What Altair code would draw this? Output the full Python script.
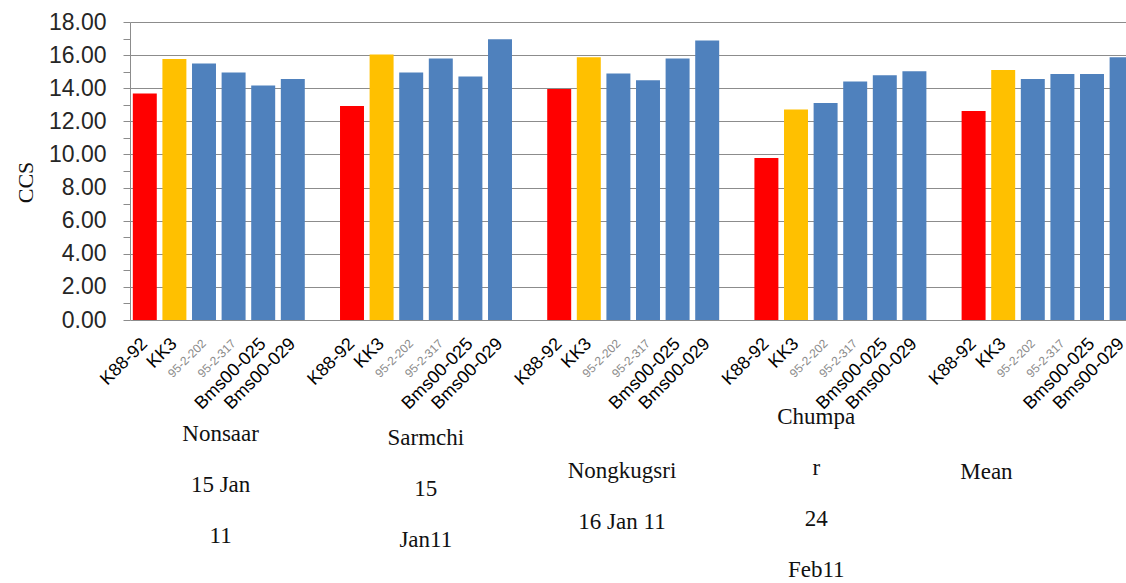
import altair as alt
import pandas as pd

# Sugarcane CCS by variety at four sites plus the overall mean
varieties = ["K88-92", "KK3", "95-2-202", "95-2-317", "Bms00-025", "Bms00-029"]
group_labels = [
    "Nonsaar\n15 Jan\n11",
    "Sarmchi\n15\nJan11",
    "Nongkugsri\n16 Jan 11",
    "Chumpa\nr\n24\nFeb11",
    "Mean",
]
ccs_nonsaar = [13.68, 15.77, 15.49, 14.95, 14.16, 14.56]
ccs_sarmchi = [12.93, 16.03, 14.95, 15.79, 14.71, 16.96]
ccs_nongkugsri = [13.96, 15.87, 14.89, 14.48, 15.79, 16.88]
ccs_chumpar = [9.78, 12.72, 13.10, 14.40, 14.79, 15.03]
ccs_mean = [12.63, 15.10, 14.56, 14.86, 14.86, 15.87]
y_ticks = list(range(0, 19))

series = [ccs_nonsaar, ccs_sarmchi, ccs_nongkugsri, ccs_chumpar, ccs_mean]

# each site occupies 7 category slots: 6 varieties and one empty spacer
n_per = len(varieties) + 1
slots = [f"s{i:02d}" for i in range(len(series) * n_per)]

rows = []
for g, vals in enumerate(series):
    for v, val in enumerate(vals):
        rows.append({"slot": slots[g * n_per + v], "variety": varieties[v], "ccs": val})
bars_df = pd.DataFrame(rows)

RED, ORANGE, BLUE = "#FF0000", "#FFC000", "#4F81BD"
step = 29.6
plot_w = 996
plot_h = 298
pad_left, pad_top = 130, 22

label_list = "[" + ",".join(f"'{v}'" for v in varieties) + ",'']"
slot_idx = "(toNumber(substring(datum.value, 1)) % 7)"

x_scale = alt.Scale(domain=slots, range=[0, step * len(slots)],
                    paddingInner=0.19, paddingOuter=0.095)
x_axis = alt.Axis(
    title=None, domain=False, ticks=False, grid=False,
    labelAngle=-45, labelAlign="right", labelBaseline="middle",
    labelPadding=21, labelOverlap=False, labelBound=False,
    labelFont="Liberation Sans",
    labelExpr=f"{label_list}[{slot_idx}]",
    labelFontSize={"condition": {"test": f"{slot_idx} == 2 || {slot_idx} == 3", "value": 12}, "value": 18},
    labelColor={"condition": {"test": f"{slot_idx} == 2 || {slot_idx} == 3", "value": "#8a8a8a"}, "value": "#000000"},
)
y_scale = alt.Scale(domain=[0, 18], nice=False)
y_axis = alt.Axis(
    values=y_ticks,
    labelExpr="datum.value % 2 == 0 ? format(datum.value, '.2f') : ''",
    gridOpacity={"condition": {"test": "datum.value % 2 == 1", "value": 0}, "value": 1},
    gridColor="#8c8c8c", gridWidth=1.2,
    domainColor="#8c8c8c", tickColor="#8c8c8c", tickSize=7,
    labelFont="Liberation Sans", labelFontSize=23, labelColor="#262626",
    labelPadding=17,
    title="CCS", titleFont="Liberation Serif", titleFontSize=22,
    titleFontWeight="normal", titleColor="#111111",
    titleAngle=270, titleX=-105, titleY=160, titleAlign="center",
    titleBaseline="middle",
)

bars = alt.Chart(bars_df).mark_bar(clip=True).encode(
    x=alt.X("slot:N", scale=x_scale, axis=x_axis),
    y=alt.Y("ccs:Q", scale=y_scale, axis=y_axis),
    color=alt.Color("variety:N", scale=alt.Scale(domain=varieties,
                    range=[RED, ORANGE, BLUE, BLUE, BLUE, BLUE]), legend=None),
)

# site captions under the variety labels (first-line centre heights)
caption_dx = [-1, -3, -14, -27, -64]
caption_cy = [434, 438, 471, 417, 472]
layers = [bars]
for g, text in enumerate(group_labels):
    df = pd.DataFrame({"slot": [slots[g * n_per + 3]], "label": [text]})
    layers.append(
        alt.Chart(df).mark_text(
            font="Liberation Serif", fontSize=23, color="#111111",
            lineBreak="\n", lineHeight=51, baseline="middle", align="center",
            dx=caption_dx[g],
        ).encode(
            x=alt.X("slot:N", scale=x_scale, axis=x_axis, bandPosition=0),
            y=alt.value(caption_cy[g] - pad_top),
            text="label:N",
        )
    )

chart = alt.layer(*layers).properties(
    width=plot_w, height=plot_h,
    autosize=alt.AutoSizeParams(type="none"),
    padding={"left": pad_left, "top": pad_top, "right": 0, "bottom": 583 - pad_top - plot_h},
    background="white",
).configure_view(stroke=None)

chart.save("out.html", embed_options={"renderer": "svg", "actions": False})
